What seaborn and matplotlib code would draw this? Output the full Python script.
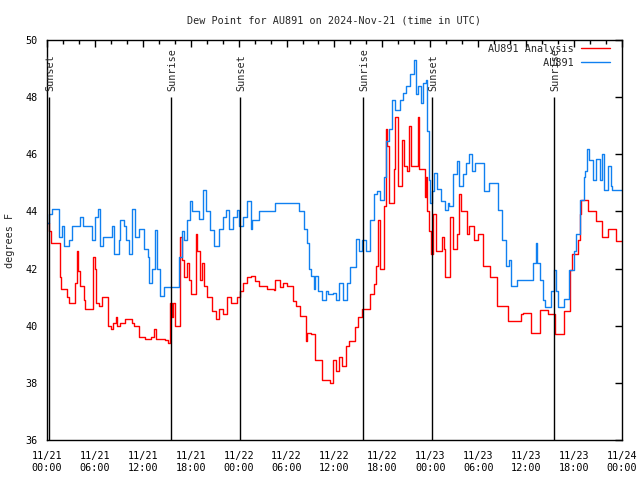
import pandas as pd
import matplotlib
matplotlib.use("Agg")
import matplotlib.pyplot as plt
import seaborn as sns

# hours after 2024-11-21 00:00 UTC, dew point in F
analysis_hours = [0.0, 0.3, 0.5, 1.6, 1.7, 2.5, 2.8, 3.5, 3.7, 3.9, 4.1, 4.6, 4.8, 5.6, 5.8, 6.0, 6.1, 6.5,
                  6.9, 7.6, 7.7, 8.0, 8.3, 8.6, 8.8, 9.2, 9.8, 10.6, 10.9, 11.5, 12.3, 13.0, 13.4, 13.6,
                  14.8, 15.2, 15.4, 15.6, 15.8, 16.0, 16.6, 16.7, 16.9, 17.1, 17.5, 17.8, 18.0, 18.6, 18.8,
                  19.1, 19.4, 19.7, 20.0, 20.7, 21.2, 21.6, 22.0, 22.6, 23.0, 23.8, 24.2, 24.6, 25.0, 25.6,
                  26.0, 26.5, 27.5, 28.4, 28.6, 29.2, 29.6, 30.0, 30.8, 31.2, 31.7, 32.4, 32.6, 33.0, 33.6,
                  34.5, 35.4, 35.8, 36.2, 36.6, 37.0, 37.5, 37.8, 38.6, 39.0, 39.5, 40.5, 40.9, 41.2, 41.5,
                  41.7, 42.2, 42.4, 42.6, 42.8, 43.4, 43.6, 43.9, 44.4, 44.7, 45.1, 45.3, 45.6, 46.4, 46.6,
                  47.3, 47.4, 47.6, 47.8, 48.1, 48.4, 48.7, 49.5, 49.7, 49.9, 50.5, 50.8, 51.4, 51.6, 51.9,
                  52.6, 52.9, 53.5, 54.0, 54.6, 55.5, 56.4, 57.7, 59.3, 59.6, 60.6, 61.7, 62.8, 63.6, 64.7,
                  65.5, 65.8, 66.5, 66.7, 66.9, 67.8, 68.7, 69.5, 70.3, 71.3, 72.0]
analysis_dew = [43.6, 43.3, 42.9, 41.7, 41.3, 41.0, 40.8, 41.5, 42.6, 41.9, 41.4, 40.9, 40.6, 40.6, 42.4, 42.0,
                40.8, 40.7, 41.0, 40.5, 40.0, 39.9, 40.1, 40.3, 40.0, 40.1, 40.25, 40.1, 40.0, 39.6, 39.55,
                39.6, 39.9, 39.55, 39.5, 39.4, 40.8, 40.3, 40.8, 40.0, 40.0, 43.1, 42.3, 41.7, 42.2, 41.6,
                41.1, 43.2, 42.6, 41.6, 42.2, 41.4, 41.0, 40.5, 40.25, 40.6, 40.4, 41.0, 40.8, 41.0, 41.2,
                41.5, 41.7, 41.75, 41.55, 41.4, 41.3, 41.25, 41.6, 41.35, 41.5, 41.4, 40.85, 40.7, 40.35,
                39.45, 39.75, 39.7, 38.8, 38.1, 38.0, 38.8, 38.4, 38.9, 38.6, 39.3, 39.45, 39.95, 40.3, 40.6,
                41.1, 41.45, 42.1, 43.7, 42.0, 44.2, 46.9, 46.3, 44.3, 45.5, 47.3, 44.9, 46.5, 45.6, 45.4,
                47.0, 45.6, 47.3, 45.5, 44.5, 45.2, 44.0, 43.3, 42.5, 43.9, 42.6, 43.1, 42.7, 41.7, 43.8,
                42.7, 43.2, 44.6, 44.0, 43.2, 43.5, 43.0, 43.2, 42.1, 41.7, 40.7, 40.15, 40.4, 40.45, 39.75,
                40.55, 40.4, 39.7, 40.5, 41.95, 42.5, 43.0, 43.9, 44.4, 44.0, 43.65, 43.1, 43.4, 42.95, 42.95]

station_hours = [0.0, 0.3, 0.6, 1.5, 1.9, 2.1, 2.7, 3.1, 4.1, 4.5, 5.6, 6.0, 6.4, 6.6, 7.0, 8.2, 8.4, 9.0,
                 9.2, 9.6, 9.9, 10.3, 10.7, 11.0, 11.5, 12.2, 12.6, 12.8, 13.1, 13.5, 13.8, 14.1, 14.7,
                 16.5, 16.9, 17.2, 17.5, 17.9, 18.2, 19.0, 19.6, 19.9, 20.4, 20.9, 21.6, 22.0, 22.4, 22.8,
                 23.3, 23.8, 24.1, 24.5, 25.1, 25.5, 25.7, 26.5, 28.6, 31.5, 32.2, 32.5, 32.8, 33.1, 33.4,
                 33.6, 34.0, 34.5, 34.9, 35.2, 35.8, 36.2, 36.6, 37.1, 37.6, 38.0, 38.7, 39.1, 39.5, 39.9,
                 40.5, 41.0, 41.3, 41.7, 42.2, 42.5, 42.8, 43.2, 43.6, 44.2, 44.6, 45.0, 45.5, 45.9, 46.2,
                 46.5, 46.8, 47.1, 47.4, 47.6, 47.8, 48.0, 48.2, 48.5, 48.9, 49.3, 49.9, 50.2, 50.4, 50.8,
                 51.3, 51.6, 52.1, 52.5, 52.8, 53.2, 53.6, 54.7, 55.4, 56.5, 57.0, 57.5, 57.8, 58.1, 58.8,
                 60.7, 60.9, 61.2, 61.4, 61.8, 62.1, 62.4, 63.1, 63.5, 63.8, 64.0, 64.8, 65.4, 66.0, 66.3,
                 66.8, 67.2, 67.4, 67.6, 67.9, 68.4, 68.8, 69.2, 69.5, 69.8, 70.3, 70.6, 70.8, 72.0]
station_dew = [43.6, 43.9, 44.1, 43.1, 43.5, 42.8, 43.0, 43.5, 43.8, 43.5, 43.0, 43.8, 44.1, 42.8, 43.1, 43.5,
               42.5, 43.0, 43.7, 43.5, 43.0, 42.5, 44.1, 43.1, 43.4, 42.7, 42.4, 41.5, 42.0, 43.35, 42.0,
               41.05, 41.35, 42.4, 43.3, 43.0, 43.7, 44.35, 44.0, 43.75, 44.75, 44.0, 43.35, 42.8, 43.4,
               43.8, 44.05, 43.4, 43.8, 44.05, 43.5, 43.8, 44.35, 43.4, 43.7, 44.0, 44.3, 44.0, 43.4, 42.9,
               42.0, 41.75, 41.3, 41.75, 41.2, 40.9, 41.2, 41.1, 41.15, 40.9, 41.5, 40.9, 41.5, 42.05, 43.05,
               42.6, 43.0, 42.6, 43.7, 44.6, 44.7, 44.4, 45.2, 46.45, 46.9, 47.9, 47.55, 47.9, 48.15, 48.4,
               48.8, 49.3, 48.1, 48.4, 47.8, 48.5, 48.6, 46.8, 45.1, 44.3, 44.7, 45.35, 44.8, 44.36, 44.05,
               44.3, 44.2, 45.3, 45.75, 44.9, 45.3, 45.7, 46.0, 45.4, 45.7, 44.7, 45.0, 44.05, 43.0, 42.1,
               42.3, 41.4, 41.6, 41.6, 42.2, 42.9, 42.2, 41.6, 40.9, 40.65, 41.2, 41.95, 41.2, 40.67, 40.95,
               41.95, 42.6, 43.2, 44.4, 45.2, 45.4, 46.2, 45.8, 45.1, 45.85, 45.1, 46.0, 44.75, 45.6, 44.9,
               44.75, 44.75]

event_hours = [0.28, 15.5, 24.2, 39.6, 48.25, 63.5]
event_names = ["Sunset", "Sunrise", "Sunset", "Sunrise", "Sunset", "Sunrise"]

tick_hours = list(range(0, 73, 6))
tick_labels = ["11/21\n00:00", "11/21\n06:00", "11/21\n12:00", "11/21\n18:00",
               "11/22\n00:00", "11/22\n06:00", "11/22\n12:00", "11/22\n18:00",
               "11/23\n00:00", "11/23\n06:00", "11/23\n12:00", "11/23\n18:00",
               "11/24\n00:00"]
y_ticks = [36, 38, 40, 42, 44, 46, 48, 50]

series_names = ["AU891 Analysis", "AU891"]
colors = {"AU891 Analysis": "#ff0000", "AU891": "#1080f0"}

df = pd.concat([
    pd.DataFrame({"hour": analysis_hours, "dew": analysis_dew, "series": series_names[0]}),
    pd.DataFrame({"hour": station_hours, "dew": station_dew, "series": series_names[1]}),
])

sns.set_style("white")
plt.rcParams["font.family"] = ["DejaVu Sans Mono"]
plt.rcParams["font.size"] = 7.3

fig = plt.figure(figsize=(6.4, 4.8), dpi=100)
ax = fig.add_axes([0.0734, 0.0833, 0.8984, 0.8334])

sns.lineplot(data=df, x="hour", y="dew", hue="series", hue_order=series_names,
             palette=colors, estimator=None, drawstyle="steps-post", linewidth=1.0,
             ax=ax, legend=False)

ax.vlines(event_hours, 36, 48, color="black", linewidth=1.0)
for h, name in zip(event_hours, event_names):
    ax.text(h + 0.15, 48.2, name, rotation=90, ha="center", va="bottom", fontsize=7.3)

ax.set_xlim(0, 72)
ax.set_ylim(36, 50)
ax.set_xticks(tick_hours)
ax.set_xticklabels(tick_labels)
ax.set_xticks(range(0, 73, 2), minor=True)
ax.set_yticks(y_ticks)
ax.tick_params(which="both", direction="in", top=True, right=True, colors="black")
ax.tick_params(which="major", length=5, width=1, pad=8)
ax.tick_params(which="minor", length=3, width=1)
ax.tick_params(axis="y", pad=7)
for s in ax.spines.values():
    s.set_color("black")
    s.set_linewidth(1.0)

ax.set_xlabel("")
ax.set_ylabel("degrees F", labelpad=7)
ax.set_title("Dew Point for AU891 on 2024-Nov-21 (time in UTC)", pad=12, fontsize=7.3)

width = max(len(n) for n in series_names)
handles = [plt.Line2D([], [], color=colors[n], linewidth=1.0) for n in series_names]
ax.legend(handles, [n.rjust(width) for n in series_names], loc="upper right",
          bbox_to_anchor=(0.986, 1.0), frameon=False, markerfirst=False,
          handlelength=2.8, handletextpad=0.8, labelspacing=0.35,
          borderaxespad=0.0, borderpad=0.4, fontsize=7.3)

fig.savefig("out.png", dpi=100)
